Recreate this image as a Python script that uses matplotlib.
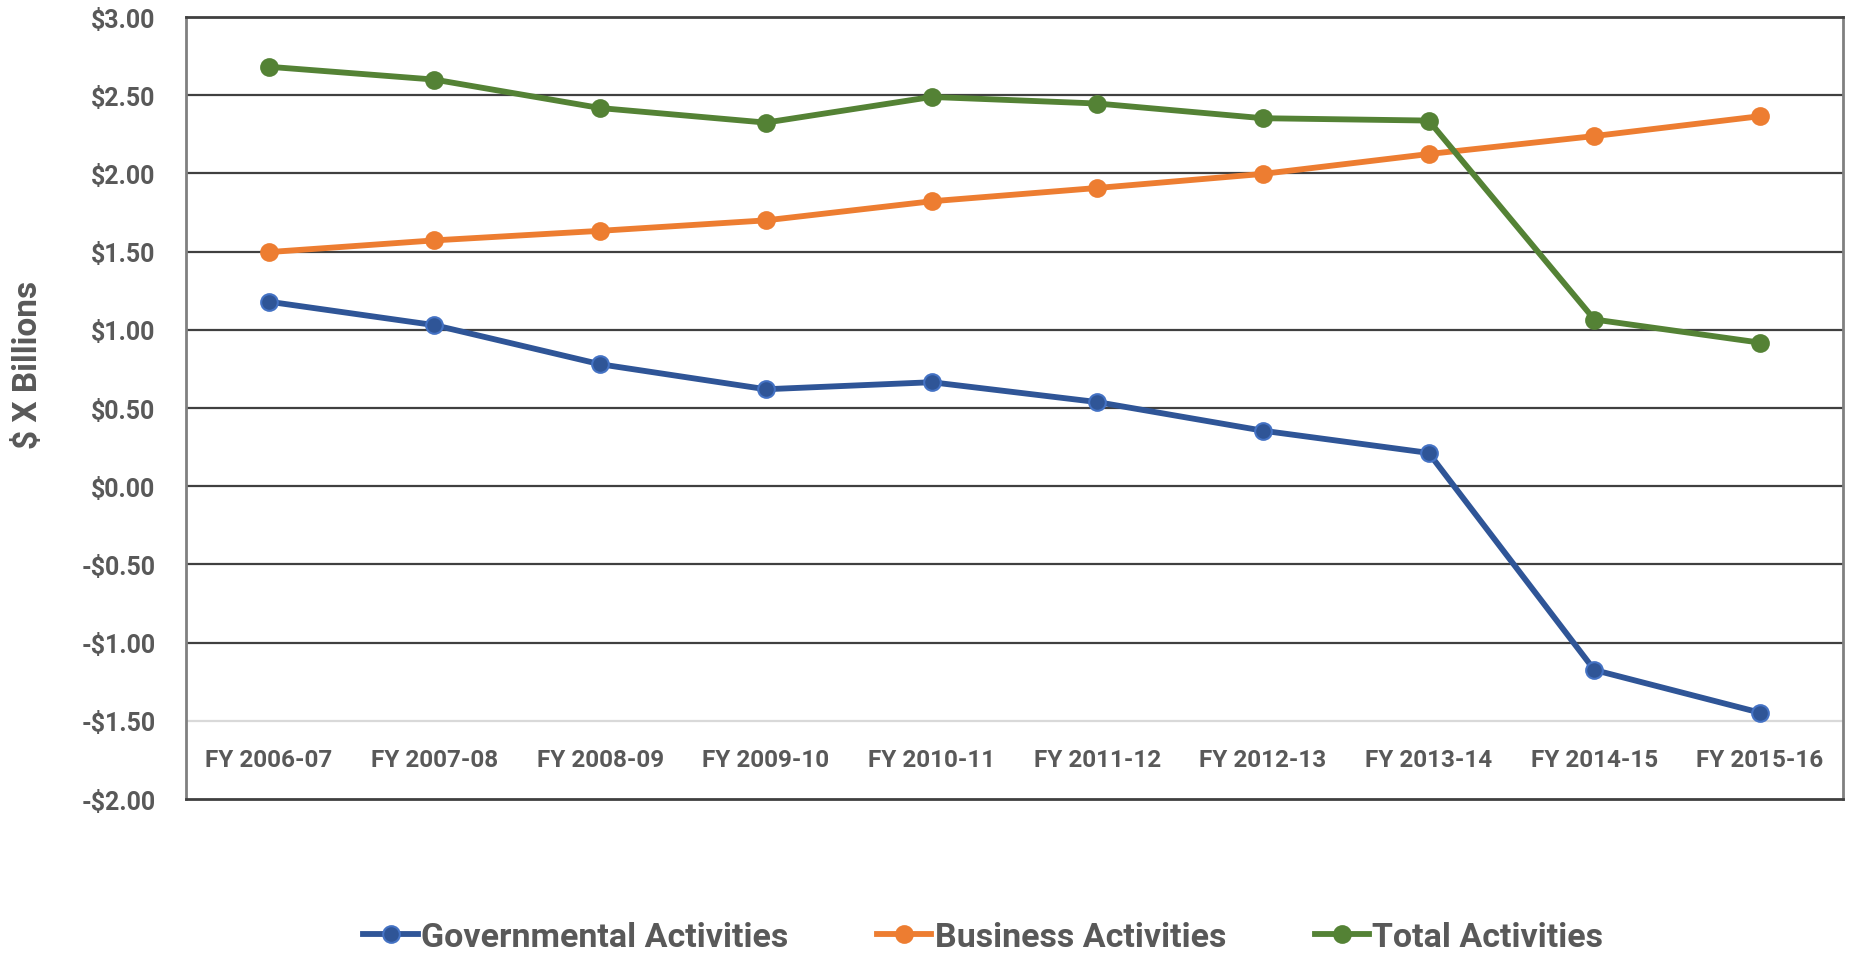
import numpy as np
import matplotlib.pyplot as plt
from matplotlib.lines import Line2D

years = ['FY 2006-07', 'FY 2007-08', 'FY 2008-09', 'FY 2009-10', 'FY 2010-11',
	'FY 2011-12', 'FY 2012-13', 'FY 2013-14', 'FY 2014-15', 'FY 2015-16']
governmental = [1.18, 1.03, 0.78, 0.62, 0.665, 0.538, 0.355, 0.213, -1.175, -1.448]
business = [1.497, 1.572, 1.633, 1.70, 1.822, 1.907, 1.997, 2.124, 2.239, 2.366]
total = [2.682, 2.60, 2.418, 2.325, 2.489, 2.447, 2.353, 2.338, 1.066, 0.918]
yticks = [3.0, 2.5, 2.0, 1.5, 1.0, 0.5, 0.0, -0.5, -1.0, -1.5, -2.0]

txt = '#595959'
plt.rcParams['font.family'] = ['Roboto', 'DejaVu Sans']
plt.rcParams['font.weight'] = 'bold'

fig = plt.figure(figsize=(18.52, 9.54), dpi=100)
ax = fig.add_axes([0.1004, 0.1614, 0.8947, 0.8197])

x = np.arange(len(years))
series = [
	('Governmental Activities', governmental, '#2F5597', '#4472C4'),
	('Business Activities', business, '#ED7D31', '#ED7D31'),
	('Total Activities', total, '#548235', '#548235'),
]
handles = []
for name, vals, col, edge in series:
	ax.plot(x, vals, color=col, lw=4.2, marker='o', ms=12, mfc=col, mec=edge, mew=1.5,
		solid_capstyle='round', zorder=3)
	handles.append(Line2D([0], [0], color=col, lw=4.2, marker='o', ms=12, mfc=col,
		mec=edge, mew=1.5, label=name))

ax.set_xlim(-0.5, len(years) - 0.5)
ax.set_ylim(-2.0, 3.0)

# gridlines: dark ones, the -1.5 line is the light category axis
for v in yticks[1:-2]:
	ax.axhline(v, color='#404040', lw=1.6, zorder=1)
ax.axhline(-1.5, color='#D9D9D9', lw=1.6, zorder=1)

ax.set_yticks(yticks)
ax.set_yticklabels(['-$%.2f' % abs(v) if v < 0 else '$%.2f' % v for v in yticks])
ax.set_xticks([])
for i, lab in enumerate(years):
	ax.text(i, -1.75, lab, ha='center', va='center', fontsize=17.5, color=txt, fontweight='bold')
ax.tick_params(axis='y', length=0, pad=22, labelsize=18, labelcolor=txt)
for t in ax.get_yticklabels():
	t.set_fontweight('bold')

ax.spines['left'].set_color('#808080')
ax.spines['right'].set_color('#808080')
ax.spines['top'].set_color('#404040')
ax.spines['bottom'].set_color('#404040')
for s in ax.spines.values():
	s.set_linewidth(2)

fig.text(28 / 1852, 1 - 365 / 954, '$ X Billions', rotation=90, ha='center', va='center',
	fontsize=24, color=txt, fontweight='bold')

leg = fig.legend(handles=handles, loc='center', bbox_to_anchor=(0.531, 1 - 938 / 954), ncol=3,
	frameon=False, prop={'size': 24.5, 'weight': 'bold'}, handlelength=1.6, handletextpad=0.1,
	columnspacing=2.6)
for t in leg.get_texts():
	t.set_color(txt)

fig.savefig('out.png', dpi=100)
